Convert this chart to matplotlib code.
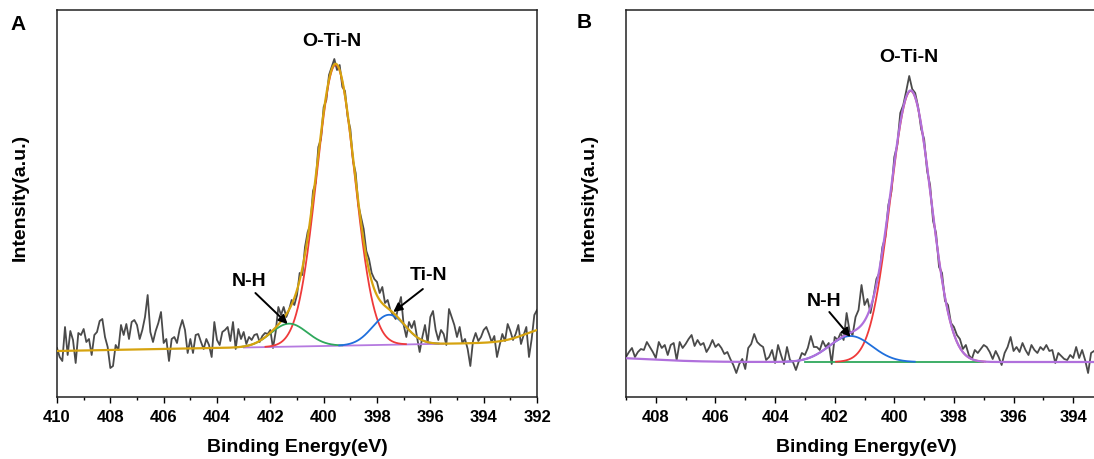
"""
N 1s XPS spectra with peak fitting, panels A and B.
"""

import numpy as np
import matplotlib.pyplot as plt
from matplotlib.ticker import MultipleLocator

plt.rcParams['font.family'] = ['Liberation Sans', 'DejaVu Sans']
plt.rcParams['font.weight'] = 'bold'

# ---- Panel A: raw counts (a.u.), 0.1 eV steps from 410.0 down to 392.0
a_raw = [
    49, 40, 36, 70, 42, 66, 57, 34, 64, 62,      # 410.0 - 409.1
    68, 55, 58, 42, 62, 65, 76, 78, 60, 50,      # 409.0 - 408.1
    29, 31, 52, 47, 72, 62, 73, 58, 75, 77,      # 408.0 - 407.1
    72, 58, 67, 80, 102, 65, 55, 66, 74, 85,     # 407.0 - 406.1
    54, 58, 36, 58, 60, 54, 68, 77, 67, 44,      # 406.0 - 405.1
    58, 44, 62, 63, 55, 48, 58, 52, 40, 75,      # 405.0 - 404.1
    57, 52, 65, 67, 70, 56, 75, 48, 68, 58,      # 404.0 - 403.1
    65, 53, 60, 57, 62, 63, 55, 61, 64, 63,      # 403.0 - 402.1
    67, 49, 65, 90, 82, 90, 80, 87, 97, 92,      # 402.0 - 401.1
    102, 124, 122, 150, 165, 172, 206, 214, 250, 258,  # 401.0 - 400.1
    290, 297, 322, 330, 338, 327, 332, 310, 306, 280,  # 400.0 - 399.1
    268, 236, 224, 192, 180, 168, 146, 138, 124, 118,  # 399.0 - 398.1
    115, 104, 110, 94, 97, 87, 82, 78, 90, 100,  # 398.0 - 397.1
    72, 60, 75, 69, 76, 60, 45, 60, 72, 54,      # 397.0 - 396.1
    80, 86, 67, 57, 67, 63, 52, 88, 80, 72,      # 396.0 - 395.1
    60, 70, 54, 58, 48, 31, 56, 64, 56, 60,      # 395.0 - 394.1
    67, 70, 63, 55, 61, 40, 52, 63, 56, 73,      # 394.0 - 393.1
    66, 57, 63, 72, 53, 62, 70, 40, 58, 82,      # 393.0 - 392.1
    87,                                          # 392.0
]
a_start, a_stop = 410.0, 392.0

# fitted components A: centre (eV), height above background, FWHM (eV)
a_peak_names = ['O-Ti-N', 'N-H', 'Ti-N']
a_centers = [399.55, 401.30, 397.55]
a_heights = [281, 23, 30]
a_fwhms = [1.68, 1.60, 1.45]
a_colors = ['#ef3a3a', '#2fa85c', '#1f6fdc']
# tail of a neighbouring peak beyond the window (only in the envelope)
a_tail = (391.5, 14, 2.1)
# linear background: (energy, level) at the two ends
a_bg_e = [392.0, 410.0]
a_bg_y = [55, 46]
a_bg_span = (403.0, 395.5)

# ---- Panel B: raw counts (a.u.), 0.1 eV steps from 409.0 down to 393.3
b_raw = [
    40, 45, 49, 40, 45, 48, 47, 55, 50, 45,      # 409.0 - 408.1
    39, 55, 49, 52, 42, 52, 54, 37, 55, 49,      # 408.0 - 407.1
    53, 58, 62, 51, 57, 52, 54, 45, 50, 57,      # 407.0 - 406.1
    50, 53, 49, 43, 45, 38, 32, 24, 33, 38,      # 406.0 - 405.1
    28, 49, 53, 63, 55, 52, 50, 37, 40, 47,      # 405.0 - 404.1
    34, 52, 42, 33, 50, 37, 35, 27, 36, 44,      # 404.0 - 403.1
    42, 49, 61, 50, 50, 47, 56, 50, 54, 33,      # 403.0 - 402.1
    60, 57, 64, 57, 84, 66, 62, 80, 87, 112,     # 402.0 - 401.1
    92, 98, 84, 100, 118, 124, 150, 160, 192, 205,     # 401.0 - 400.1
    240, 252, 284, 292, 306, 321, 308, 304, 290, 268,  # 400.0 - 399.1
    258, 226, 212, 176, 164, 130, 124, 96, 92, 74,     # 399.0 - 398.1
    70, 62, 58, 48, 52, 42, 38, 47, 44, 48,      # 398.0 - 397.1
    52, 50, 45, 38, 46, 40, 32, 44, 50, 60,      # 397.0 - 396.1
    46, 50, 45, 54, 47, 42, 52, 47, 44, 50,      # 396.0 - 395.1
    47, 52, 46, 47, 34, 44, 41, 38, 37, 42,      # 395.0 - 394.1
    39, 50, 39, 47, 37, 24, 44, 46,              # 394.0 - 393.3
]
b_start, b_stop = 409.0, 393.3

b_peak_names = ['O-Ti-N', 'N-H']
b_centers = [399.45, 401.47]
b_heights = [271, 26]
b_fwhms = [1.60, 1.70]
b_colors = ['#ef3a3a', '#1f6fdc']
b_tail = (410.5, 5, 4.7)
b_bg_e = [393.0, 409.0]
b_bg_y = [35, 35]
b_bg_span = (403.0, 397.0)

RAW_COLOR = '#4a4a4a'


def gauss(e, center, height, fwhm):
    sigma = fwhm / 2.3548
    return height * np.exp(-0.5 * ((e - center) / sigma) ** 2)


def draw_panel(ax, raw, start, stop, centers, heights, fwhms, colors, tail,
               bg_e, bg_y, bg_span, bg_color, env_color, xlim):
    e_raw = np.linspace(start, stop, len(raw))
    ax.plot(e_raw, raw, color=RAW_COLOR, lw=1.3, zorder=2)

    e = np.linspace(start, stop, 1601)
    bg = np.interp(e, bg_e, bg_y)

    # background line, shown only over the fitted window
    m = (e <= bg_span[0]) & (e >= bg_span[1])
    ax.plot(e[m], bg[m], color=bg_color, lw=1.3, zorder=3)

    total = bg + gauss(e, *tail)
    for c, h, w, col in zip(centers, heights, fwhms, colors):
        comp = gauss(e, c, h, w)
        total = total + comp
        shown = np.where(comp > 0.3, bg + comp, np.nan)
        ax.plot(e, shown, color=col, lw=1.3, zorder=4)

    ax.plot(e, total, color=env_color, lw=1.6, zorder=5)

    ax.set_xlim(*xlim)
    ax.set_ylim(0, 387)
    ax.set_yticks([])
    ax.xaxis.set_major_locator(MultipleLocator(2))
    ax.xaxis.set_minor_locator(MultipleLocator(1))
    ax.tick_params(axis='x', which='major', direction='out', length=4,
                   width=1.0, pad=5, labelsize=12)
    ax.tick_params(axis='x', which='minor', direction='out', length=2,
                   width=1.0)
    for lab in ax.get_xticklabels():
        lab.set_fontweight('bold')
    for sp in ax.spines.values():
        sp.set_linewidth(1.1)
        sp.set_color('#222222')


fig = plt.figure(figsize=(10.94, 4.59), dpi=100)

axA = fig.add_axes([57 / 1094, 62 / 459, 480 / 1094, 387 / 459])
draw_panel(axA, a_raw, a_start, a_stop, a_centers, a_heights, a_fwhms,
           a_colors, a_tail, a_bg_e, a_bg_y, a_bg_span,
           '#b57ae0', '#d6a30f', (410, 392))

axB = fig.add_axes([626 / 1094, 62 / 459, 477 / 1094, 387 / 459])
draw_panel(axB, b_raw, b_start, b_stop, b_centers, b_heights, b_fwhms,
           b_colors, b_tail, b_bg_e, b_bg_y, b_bg_span,
           '#2fa85c', '#b070dc', (409, 393))

label_kw = dict(fontsize=14, fontweight='bold', ha='center', va='center')
arrow_kw = dict(arrowstyle='-|>', color='black', lw=1.4, mutation_scale=13,
                shrinkA=0, shrinkB=0)

# panel A labels
axA.text(399.69, 355, a_peak_names[0], zorder=6, **label_kw)
axA.text(402.8, 116, a_peak_names[1], zorder=6, **label_kw)
axA.annotate('', xy=(401.35, 73), xytext=(402.56, 104),
             arrowprops=arrow_kw, zorder=6)
axA.text(396.08, 122, a_peak_names[2], zorder=6, **label_kw)
axA.annotate('', xy=(397.39, 85), xytext=(396.28, 108),
             arrowprops=arrow_kw, zorder=6)

# panel B labels
axB.text(399.51, 340, b_peak_names[0], zorder=6, **label_kw)
axB.text(402.37, 95, b_peak_names[1], zorder=6, **label_kw)
axB.annotate('', xy=(401.47, 60), xytext=(402.18, 85),
             arrowprops=arrow_kw, zorder=6)

# axis titles and panel letters
for xc in (297, 866):
    fig.text(xc / 1094, 1 - 447 / 459, 'Binding Energy(eV)', fontsize=14,
             fontweight='bold', ha='center', va='center')
for xc in (20, 589):
    fig.text(xc / 1094, 1 - 197 / 459, 'Intensity(a.u.)', fontsize=14,
             fontweight='bold', ha='center', va='center', rotation=90)
fig.text(18 / 1094, 1 - 25 / 459, 'A', fontsize=15, fontweight='bold',
         ha='center', va='center')
fig.text(584 / 1094, 1 - 22 / 459, 'B', fontsize=15, fontweight='bold',
         ha='center', va='center')

fig.savefig('out.png', dpi=100)
